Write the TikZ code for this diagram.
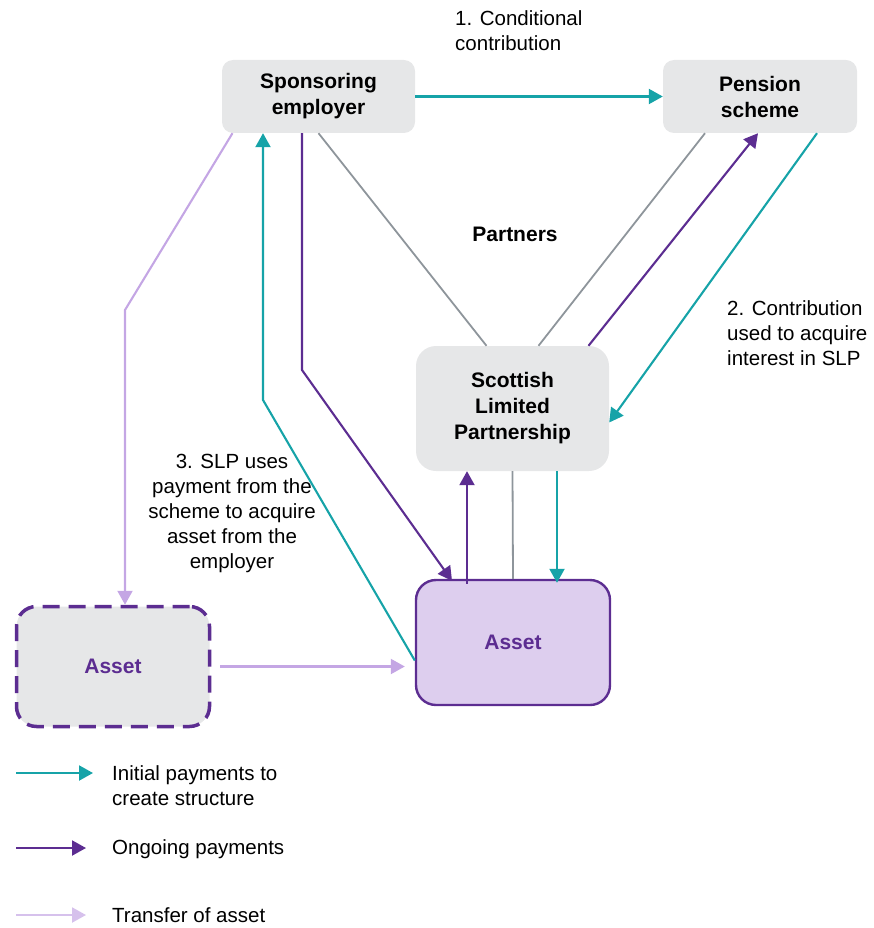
\documentclass[tikz,border=0pt]{standalone}
\usepackage{fontspec}
\setmainfont{Liberation Sans}
\usetikzlibrary{arrows.meta,calc}
\definecolor{teal1}{RGB}{22,163,168}
\definecolor{purp}{RGB}{92,45,145}
\definecolor{lpurp}{RGB}{196,166,228}
\definecolor{gline}{RGB}{142,149,155}
\definecolor{boxgray}{RGB}{230,231,232}
\definecolor{assetfill}{RGB}{221,206,238}
\tikzset{
  box/.style={fill=boxgray, rounded corners=11pt, align=center, inner sep=0pt,
    font=\fontsize{21}{26}\selectfont\bfseries},
  bigbox/.style={box, rounded corners=20pt},
  lbl/.style={inner sep=0pt, font=\fontsize{20.5}{25}\selectfont},
  tealarr/.style={draw=teal1, line width=2.1pt, -{Triangle[length=14pt,width=15pt]}},
  purparr/.style={draw=purp, line width=2.1pt, -{Triangle[length=14pt,width=15pt]}},
  lpurparr/.style={draw=lpurp, line width=2.1pt, -{Triangle[length=14pt,width=15pt]}},
  grayline/.style={draw=gline, line width=1.8pt},
}
\begin{document}
\begin{tikzpicture}[x=1pt,y=-1pt]
\path[use as bounding box] (0,0) rectangle (873,928);

\node[box, minimum width=193pt, minimum height=73pt] (emp) at (318.5,96.5) {Sponsoring\\employer};
\node[box, minimum width=194pt, minimum height=73pt] (pen) at (760,96.5) {Pension\\scheme};
\node[bigbox, minimum width=193pt, minimum height=125pt] (slp) at (512.5,408.5) {Scottish\\Limited\\Partnership};
\node[bigbox, fill=assetfill, draw=purp, line width=2.4pt, minimum width=194pt, minimum height=125pt, text=purp] (asset) at (513,642.5) {Asset};
\node[bigbox, draw=purp, line width=3.5pt, dash pattern=on 17pt off 9pt, minimum width=193pt, minimum height=120pt, text=purp] (oldasset) at (113,666.5) {Asset};

% labels
\node[lbl, anchor=west, align=left] (l1) at (455,31) {1. Conditional\\contribution};
\node[lbl, anchor=west, align=left] (l2) at (727,333) {2. Contribution\\used to acquire\\interest in SLP};
\node[lbl, align=center] (l3) at (232,513) {3. SLP uses\\payment from the\\scheme to acquire\\asset from the\\employer};
\node[lbl, font=\fontsize{21}{26}\selectfont\bfseries] (partners) at (515,234) {Partners};

% connectors
\draw[tealarr] (emp.east) -- (pen.west);
\draw[grayline] ([xshift=0pt]emp.south) -- ([xshift=-26pt]slp.north);
\draw[grayline] ([xshift=-55pt]pen.south) -- ([xshift=26pt]slp.north);
\draw[purparr] ([xshift=76pt]slp.north) -- ([xshift=-2pt]pen.south);
\draw[tealarr] ([xshift=57pt]pen.south) -- ([yshift=-14pt]slp.east);

\draw[lpurparr] ([xshift=-86pt]emp.south) -- (125,310) -- (oldasset.north -| 125,0);
\draw[tealarr] ([yshift=-18pt]asset.west) -- (263,400) -- (emp.south -| 263,0);
\draw[purparr] (emp.south -| 302,0) -- (302,370) -- ([xshift=-61pt,yshift=-2pt]asset.north);
\draw[purparr] ([xshift=-46pt,yshift=-5pt]asset.north) -- (slp.south -| 467,0);
\draw[grayline] (slp.south) -- (asset.north);
\draw[tealarr] (slp.south -| 557,0) -- ([xshift=44pt,yshift=-4pt]asset.north);
\draw[lpurparr] ([xshift=9pt]oldasset.east) -- ([xshift=-10pt]asset.west |- oldasset.east);

% legend
\coordinate (a1) at (16,773); \coordinate (b1) at (93,773);
\coordinate (a2) at (16,848); \coordinate (b2) at (86,848);
\coordinate (a3) at (16,915); \coordinate (b3) at (86,915);
\draw[tealarr] (a1) -- (b1);
\draw[purparr] (a2) -- (b2);
\draw[draw=lpurp!70, line width=2.1pt, -{Triangle[length=14pt,width=15pt]}] (a3) -- (b3);
\node[lbl, anchor=west, align=left] (t1) at (112,786) {Initial payments to\\create structure};
\node[lbl, anchor=west] (t2) at (112,849) {Ongoing payments};
\node[lbl, anchor=west] (t3) at (112,915) {Transfer of asset};
\end{tikzpicture}
\end{document}
